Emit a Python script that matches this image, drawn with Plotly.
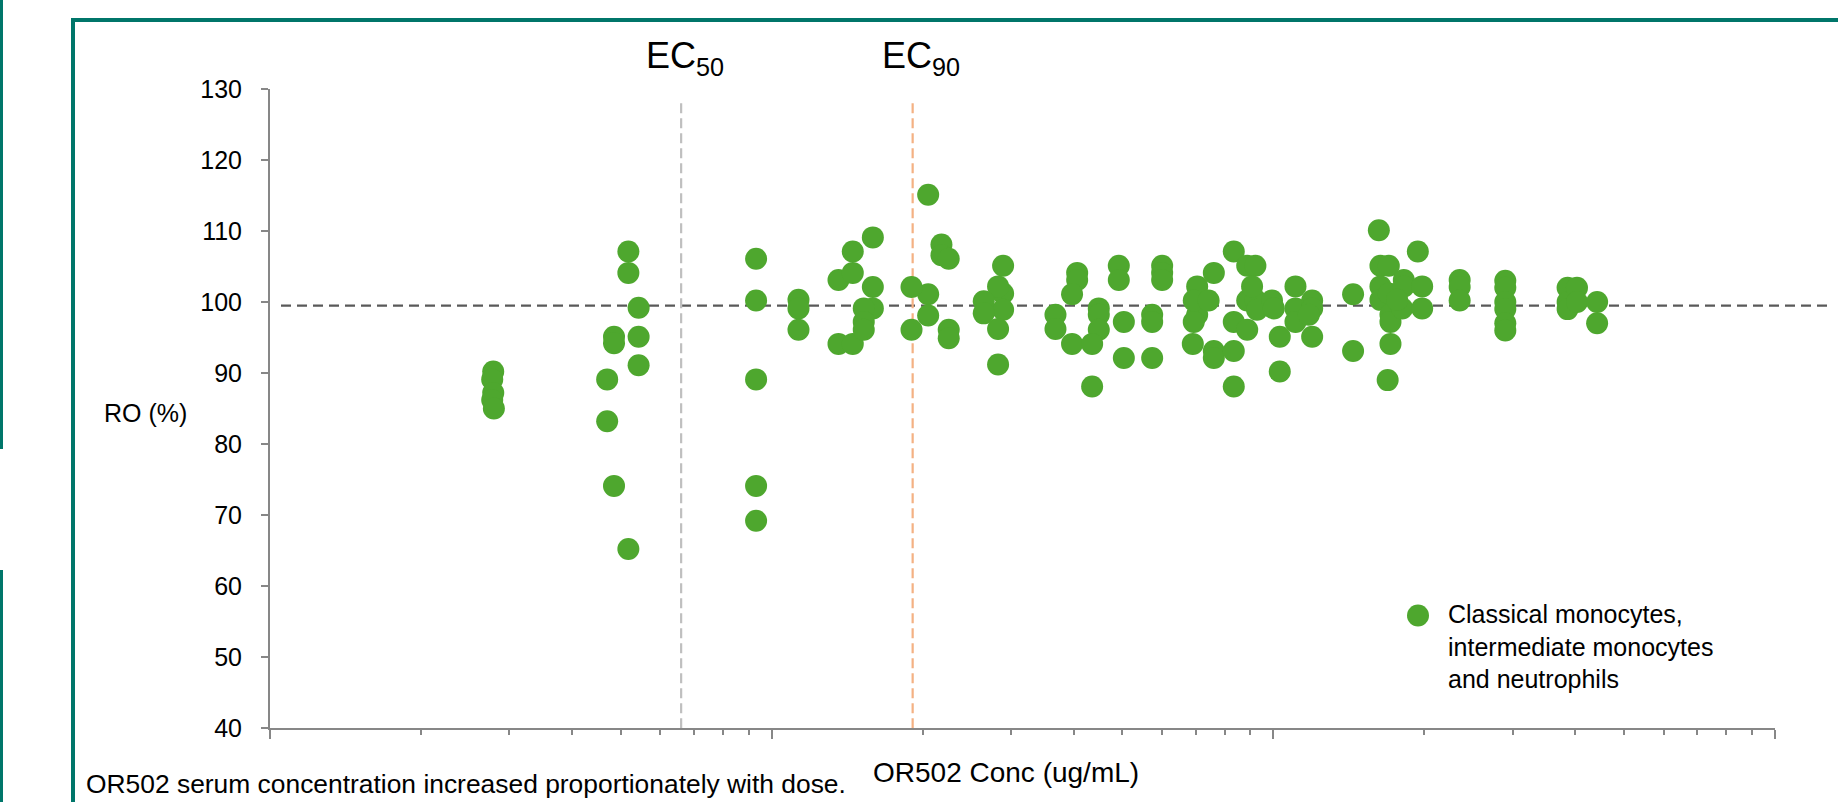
import math
import plotly.graph_objects as go

# ---------------- data ----------------
conc = [
    0.2786, 0.2773, 0.2786, 0.2773, 0.2794,
    0.518, 0.518, 0.543, 0.485, 0.485, 0.543, 0.543, 0.470, 0.470, 0.485, 0.518,
    0.931, 0.931, 0.931, 0.931, 0.931,
    1.131, 1.131, 1.131,
    1.359, 1.359, 1.451, 1.451, 1.451, 1.591, 1.591, 1.591, 1.526, 1.526, 1.526,
    2.051, 2.051, 2.051, 1.900, 1.900, 2.18, 2.18, 2.254, 2.254, 2.254,
    2.893, 2.893, 2.893, 2.827, 2.827, 2.827, 2.647, 2.647,
    4.064, 4.064, 3.97, 3.97, 3.679, 3.679, 4.488, 4.488, 4.488, 4.353, 4.353,
    4.92, 4.92, 5.035, 5.035, 6.003, 6.003, 6.003, 5.734, 5.734, 5.734,
    7.05, 7.05, 6.94, 6.94, 7.43, 6.91, 7.61, 7.61, 7.61,
    8.34, 8.34, 8.34, 8.34, 8.87, 8.87, 8.87, 9.21, 9.21, 9.07, 9.28, 9.94, 10.02,
    10.3, 10.3, 11.07, 11.07, 11.07, 11.95, 11.95, 11.95, 11.77,
    14.42, 14.42,
    16.23, 16.35, 16.35, 16.35, 16.99, 16.99, 17.12, 17.12, 17.12, 16.9,
    18.2, 18.2, 18.06, 19.41, 19.8, 19.8, 17.65,
    23.52, 23.52, 23.52,
    29.0, 29.0, 29.0, 29.0, 29.0, 29.0,
    38.6, 38.6, 38.6, 40.3, 40.3,
    44.2, 44.2,
]
ro = [
    90.2, 89.1, 87.2, 86.2, 85.0,
    107.1, 104.1, 99.2, 95.1, 94.2, 95.1, 91.1, 89.1, 83.2, 74.1, 65.2,
    106.1, 100.2, 89.1, 74.1, 69.2,
    100.3, 99.1, 96.1,
    103.1, 94.1, 107.1, 104.1, 94.1, 109.1, 102.1, 99.1, 99.1, 97.2, 96.1,
    115.1, 101.1, 98.1, 102.1, 96.1, 108.1, 106.6, 106.1, 96.1, 94.9,
    105.1, 101.2, 98.9, 102.2, 96.2, 91.2, 100.1, 98.4,
    104.1, 103.1, 101.1, 94.1, 98.2, 96.2, 99.1, 98.2, 96.1, 94.1, 88.1,
    105.1, 103.1, 97.2, 92.1, 105.1, 104.1, 103.1, 98.2, 97.2, 92.1,
    102.2, 98.2, 100.2, 97.2, 100.2, 94.1, 104.1, 93.1, 92.1,
    107.1, 97.2, 93.1, 88.1, 105.1, 100.2, 96.1, 105.1, 100.3, 102.2, 98.9, 100.2, 99.1,
    95.1, 90.2, 102.2, 99.1, 97.2, 100.2, 99.1, 95.1, 98.2,
    101.1, 93.1,
    110.1, 105.1, 102.2, 100.3, 105.1, 101.2, 98.2, 97.2, 94.1, 89.0,
    103.1, 102.2, 99.1, 107.1, 102.2, 99.1, 100.3,
    103.1, 102.1, 100.2,
    103.0, 102.0, 100.0, 99.0, 97.0, 96.0,
    102.0, 100.0, 99.0, 102.0, 100.0,
    100.0, 97.0,
]
series_name = "Classical monocytes,<br>intermediate monocytes<br>and neutrophils"
ec50 = 0.66
ec90 = 1.91
ref_level = 99.5
decades = [0.1, 1, 10, 100]
minor_digits = [2, 3, 4, 5, 6, 7, 8, 9]
y_ticks = [40, 50, 60, 70, 80, 90, 100, 110, 120, 130]

# ---------------- layout helpers ----------------
W, H = 1838, 802
ML, MR, MT, MB = 270, 63, 89, 74
PW, PH = W - ML - MR, H - MT - MB


def px(x):
    return (x - ML) / PW


def py(y):
    return (H - MB - y) / PH


FONT = "Liberation Sans, Arial, sans-serif"
GREEN = "#4EA72E"
TEAL = "#00766A"
AXIS = "#878787"
MS = 22

minor_vals = [d * m for d in decades[:-1] for m in minor_digits]

fig = go.Figure()

# EC reference lines
fig.add_trace(go.Scatter(x=[ec50, ec50], y=[128, 40], mode="lines",
                         line=dict(color="#BFBFBF", width=2.2, dash="10px,5px"),
                         showlegend=False, hoverinfo="skip"))
fig.add_trace(go.Scatter(x=[ec90, ec90], y=[128, 40], mode="lines",
                         line=dict(color="#F4B183", width=2.2, dash="10px,5px"),
                         showlegend=False, hoverinfo="skip"))

fig.add_trace(go.Scatter(
    x=conc, y=ro, mode="markers", name=series_name.replace("<br>", " "),
    marker=dict(size=MS, color=GREEN, line=dict(width=0)),
    cliponaxis=False, showlegend=False,
))

LX, LY = 1418, 615.5  # legend symbol centre
shapes = [
    # horizontal reference line
    dict(type="line", xref="paper", yref="y", x0=px(281), x1=px(1832),
         y0=ref_level, y1=ref_level,
         line=dict(color="#595959", width=2.2, dash="10px,6px"), layer="below"),
    # slide frame
    dict(type="rect", xref="paper", yref="paper", x0=px(73), x1=px(1950),
         y0=py(20), y1=py(950), line=dict(color=TEAL, width=4)),
    dict(type="line", xref="paper", yref="paper", x0=px(1.5), x1=px(1.5),
         y0=py(-5), y1=py(449), line=dict(color=TEAL, width=3)),
    dict(type="line", xref="paper", yref="paper", x0=px(1.5), x1=px(1.5),
         y0=py(570), y1=py(810), line=dict(color=TEAL, width=3)),
    # legend symbol
    dict(type="circle", xref="paper", yref="paper",
         x0=px(LX - MS / 2), x1=px(LX + MS / 2),
         y0=py(LY + MS / 2), y1=py(LY - MS / 2),
         fillcolor=GREEN, line=dict(width=0)),
]

annotations = [
    dict(text="EC<sub>50</sub>", xref="x", yref="paper", x=math.log10(ec50), xshift=4,
         y=py(58), xanchor="center", yanchor="middle", showarrow=False,
         font=dict(family=FONT, size=36, color="black")),
    dict(text="EC<sub>90</sub>", xref="x", yref="paper", x=math.log10(ec90), xshift=8,
         y=py(58), xanchor="center", yanchor="middle", showarrow=False,
         font=dict(family=FONT, size=36, color="black")),
    dict(text="RO (%)", xref="paper", yref="paper", x=px(145), y=py(413),
         xanchor="center", yanchor="middle", showarrow=False,
         font=dict(family=FONT, size=25, color="black")),
    dict(text="OR502 Conc (ug/mL)", xref="paper", yref="paper", x=px(1006), y=py(773),
         xanchor="center", yanchor="middle", showarrow=False,
         font=dict(family=FONT, size=28, color="black")),
    dict(text="OR502 serum concentration increased proportionately with dose.",
         xref="paper", yref="paper", x=px(84), y=py(784),
         xanchor="left", yanchor="middle", showarrow=False,
         font=dict(family=FONT, size=26.4, color="black")),
    # legend text
    dict(text=series_name, xref="paper", yref="paper", x=px(1446), y=py(646),
         xanchor="left", yanchor="middle", align="left", showarrow=False,
         font=dict(family=FONT, size=25, color="black")),
]

fig.update_layout(
    width=W, height=H,
    margin=dict(l=ML, r=MR, t=MT, b=MB),
    paper_bgcolor="white", plot_bgcolor="white",
    font=dict(family=FONT, color="black"),
    shapes=shapes, annotations=annotations,
    showlegend=False,
    xaxis=dict(type="log", range=[-1, 2], showgrid=False, zeroline=False,
               showline=True, linecolor=AXIS, linewidth=2,
               ticks="outside", tickvals=decades, ticklen=9, tickwidth=2,
               tickcolor=AXIS, showticklabels=False,
               minor=dict(tickvals=minor_vals, ticks="outside", ticklen=5,
                          tickwidth=1.5, tickcolor=AXIS, showgrid=False)),
    yaxis=dict(range=[40, 130], tickvals=y_ticks, showgrid=False, zeroline=False,
               showline=True, linecolor=AXIS, linewidth=2,
               ticks="outside", ticklen=7, tickwidth=2, tickcolor=AXIS,
               ticklabelstandoff=14,
               tickfont=dict(family=FONT, size=25, color="black")),
)

fig.write_html(
    "out.html",
    config={"displayModeBar": False},
    post_script="document.body.style.margin='0';document.body.style.overflow='hidden';",
)
